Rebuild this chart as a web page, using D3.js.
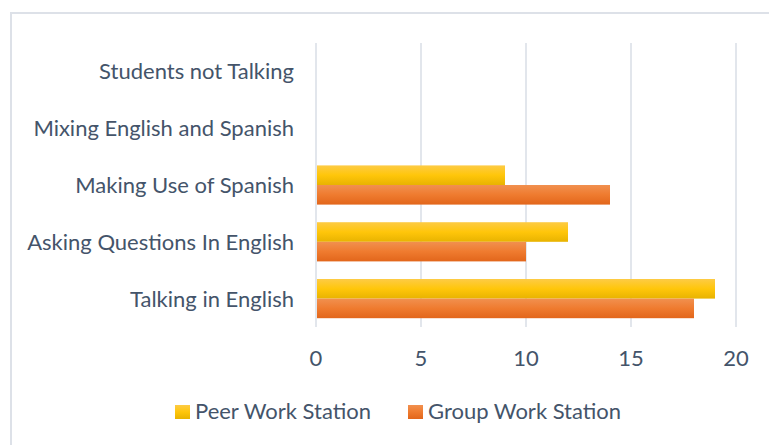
<!DOCTYPE html>
<html>
<head>
<meta charset="utf-8">
<script src="https://cdn.jsdelivr.net/npm/d3@7"></script>
<style>
  body { margin: 0; background: #fff; }
  text { font-family: Lato, "Open Sans", sans-serif; fill: #44546A; }
</style>
</head>
<body>
<div id="chart"></div>
<script>
// Data
var categories = ["Students not Talking", "Mixing English and Spanish", "Making Use of Spanish", "Asking Questions In English", "Talking in English"];
var seriesNames = ["Peer Work Station", "Group Work Station"];
var peerValues = [0, 0, 9, 12, 19];
var groupValues = [0, 0, 14, 10, 18];
var xTicks = [0, 5, 10, 15, 20];

var width = 769, height = 445;

var svg = d3.select("#chart").append("svg")
	.attr("width", width)
	.attr("height", height);

// gradients for the bars
var defs = svg.append("defs");
function addGradient(id, stops) {
	var g = defs.append("linearGradient")
		.attr("id", id)
		.attr("x1", 0).attr("y1", 0).attr("x2", 0).attr("y2", 1);
	stops.forEach(function(s) {
		g.append("stop").attr("offset", s[0]).attr("stop-color", s[1]);
	});
}
addGradient("grad-peer", [[0, "#FDCB45"], [0.5, "#FFC60A"], [1, "#E8B300"]]);
addGradient("grad-group", [[0, "#F1904F"], [0.5, "#EF7B2F"], [1, "#E2661B"]]);

// chart border (only top and left visible in frame)
svg.append("rect")
	.attr("x", 11).attr("y", 13)
	.attr("width", 800).attr("height", 500)
	.attr("fill", "none")
	.attr("stroke", "#DDE1E8")
	.attr("stroke-width", 2);

// Scales
var xScale = d3.scaleLinear().domain([0, 20]).range([316, 736]);
var yScale = d3.scaleBand().domain(categories).range([43, 327])
	.paddingInner(0.31).paddingOuter(0.155);
var subScale = d3.scaleBand().domain(seriesNames).range([0, yScale.bandwidth()]);

// Gridlines
svg.append("g").selectAll("line")
	.data(xTicks)
	.enter().append("line")
	.attr("x1", function(d) { return xScale(d); })
	.attr("x2", function(d) { return xScale(d); })
	.attr("y1", 43)
	.attr("y2", 327)
	.attr("stroke", "#D9DEE6")
	.attr("stroke-width", 1.5);

// Bars
var rows = categories.map(function(c, i) {
	return [
		{ cat: c, series: seriesNames[0], value: peerValues[i] },
		{ cat: c, series: seriesNames[1], value: groupValues[i] }
	];
});
var flat = [].concat.apply([], rows);

svg.append("g").selectAll("rect")
	.data(flat.filter(function(d) { return d.value > 0; }))
	.enter().append("rect")
	.attr("x", xScale(0) + 1)
	.attr("y", function(d) { return yScale(d.cat) + subScale(d.series); })
	.attr("width", function(d) { return xScale(d.value) - xScale(0) - 1; })
	.attr("height", subScale.bandwidth())
	.attr("fill", function(d) { return d.series == seriesNames[0] ? "url(#grad-peer)" : "url(#grad-group)"; });

// Category labels
svg.append("g").selectAll("text")
	.data(categories)
	.enter().append("text")
	.attr("x", 294)
	.attr("y", function(d) { return yScale(d) + yScale.bandwidth() / 2 + 8; })
	.attr("text-anchor", "end")
	.style("font-size", "22px")
	.text(function(d) { return d; });

// X tick labels
svg.append("g").selectAll("text")
	.data(xTicks)
	.enter().append("text")
	.attr("x", function(d) { return xScale(d); })
	.attr("y", 366)
	.attr("text-anchor", "middle")
	.style("font-size", "22px")
	.text(function(d) { return d; });

// Legend
var legendX = [175, 408];
var legend = svg.append("g").selectAll("g")
	.data(seriesNames)
	.enter().append("g")
	.attr("transform", function(d, i) { return "translate(" + legendX[i] + ",0)"; });
legend.append("rect")
	.attr("x", 0).attr("y", 405)
	.attr("width", 15).attr("height", 14)
	.attr("fill", function(d, i) { return i == 0 ? "url(#grad-peer)" : "url(#grad-group)"; });
legend.append("text")
	.attr("x", 20).attr("y", 419)
	.style("font-size", "22px")
	.text(function(d) { return d; });
</script>
</body>
</html>
